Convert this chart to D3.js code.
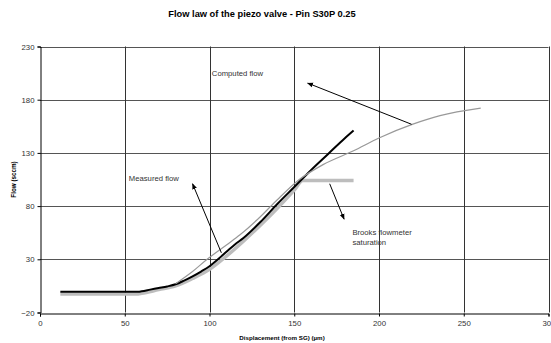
<!DOCTYPE html>
<html>
<head>
<meta charset="utf-8">
<script src="https://cdn.jsdelivr.net/npm/d3@7"></script>
<style>
  body { margin: 0; background: #fff; }
  text { font-family: "Liberation Sans", Arial, sans-serif; }
</style>
</head>
<body>
<div id="chart"></div>
<script>
"use strict";

// tick values
var xTicks = [0, 50, 100, 150, 200, 250, 300];
var yTicks = [-20, 30, 80, 130, 180, 230];

// measured flow (black)
var measuredX = [12, 20, 30, 40, 50, 58, 60, 65, 70, 75, 80, 85, 90, 95, 100, 105, 110, 115, 120, 130, 140, 150, 160, 170, 180, 185];
var measuredY = [-0.5, -0.5, -0.5, -0.5, -0.5, -0.5, 0, 1.5, 3, 4.5, 6.5, 10, 14, 18.5, 23.5, 30, 37, 44, 50, 65, 82, 98, 114, 129, 144, 151];

// measured with Brooks flowmeter (light grey, saturates)
var brooksX = [12, 20, 30, 40, 50, 58, 60, 70, 80, 90, 100, 110, 120, 130, 140, 150, 155, 160, 170, 180, 185];
var brooksY = [-2.5, -2.5, -2.5, -2.5, -2.5, -2.5, -2, 1.5, 5, 12, 20.5, 33, 47, 62, 78, 95, 104, 104, 104, 104, 104];

// computed flow (grey)
var computedX = [80, 90, 98.6, 110, 118, 130, 140, 153, 167, 185, 200, 220, 236, 260];
var computedY = [7, 18.5, 30, 43.5, 53, 70, 86, 105, 119, 132, 144, 157, 165, 172];

// annotations, in data units
var labels = [
    { text: "Computed flow", x: 101.4, y: 202 },
    { text: "Measured flow", x: 52.4, y: 104 },
    { text: "Brooks flowmeter", x: 184.3, y: 52.5 },
    { text: "saturation", x: 184.3, y: 43 }
];
var arrows = [
    { x1: 219.2, y1: 156.9, x2: 157.9, y2: 195.6 },
    { x1: 107, y1: 36.1, x2: 90, y2: 101 },
    { x1: 170.9, y1: 101, x2: 179.4, y2: 67.7 }
];

var w = 551;
var h = 343;

var x = d3.scaleLinear().domain([0, 300]).range([40, 548.5]);
var y = d3.scaleLinear().domain([-20, 230]).range([312.5, 46.5]);

var svg = d3.select("#chart")
    .append("svg")
    .attr("width", w)
    .attr("height", h);

svg.append("defs").append("marker")
    .attr("id", "head")
    .attr("viewBox", "0 0 10 10")
    .attr("refX", 9)
    .attr("refY", 5)
    .attr("markerWidth", 6)
    .attr("markerHeight", 6)
    .attr("markerUnits", "userSpaceOnUse")
    .attr("orient", "auto")
    .append("path")
    .attr("d", "M0,1L10,5L0,9Z")
    .attr("fill", "#000");

//Grid lines
svg.append("g")
    .selectAll("line")
    .data(yTicks.slice(1))
    .enter()
    .append("line")
    .attr("x1", x(0))
    .attr("x2", x(300))
    .attr("y1", function (d) { return Math.round(y(d)) + 0.5; })
    .attr("y2", function (d) { return Math.round(y(d)) + 0.5; })
    .attr("stroke", "#555");

svg.append("g")
    .selectAll("line")
    .data(xTicks.slice(1))
    .enter()
    .append("line")
    .attr("x1", function (d) { return Math.round(x(d)) + 0.5; })
    .attr("x2", function (d) { return Math.round(x(d)) + 0.5; })
    .attr("y1", y(230))
    .attr("y2", y(-20))
    .attr("stroke", "#333");

//Axes
var xAxis = svg.append("g")
    .attr("transform", "translate(0," + (Math.round(y(-20)) + 0.5) + ")")
    .call(d3.axisBottom(x).tickValues(xTicks).tickSize(3).tickPadding(4));
var yAxis = svg.append("g")
    .attr("transform", "translate(" + (Math.round(x(0)) + 0.5) + ",0)")
    .call(d3.axisLeft(y).tickValues(yTicks).tickSize(3).tickPadding(3));

[xAxis, yAxis].forEach(function (a) {
    a.select(".domain").attr("stroke", "#000");
    a.selectAll(".tick line").attr("stroke", "#000");
    a.selectAll(".tick text")
        .attr("fill", "#333")
        .style("font-size", "7.8px")
        .style("font-family", "'Liberation Sans', Arial, sans-serif");
});

//Series
function series(xs, ys) {
    return xs.map(function (d, i) { return [d, ys[i]]; });
}
var line = d3.line()
    .x(function (d) { return x(d[0]); })
    .y(function (d) { return y(d[1]); })
    .curve(d3.curveMonotoneX);

svg.append("path")
    .datum(series(brooksX, brooksY))
    .attr("d", line)
    .attr("fill", "none")
    .attr("stroke", "#bdbdbd")
    .attr("stroke-width", 3.5);

svg.append("path")
    .datum(series(measuredX, measuredY))
    .attr("d", line)
    .attr("fill", "none")
    .attr("stroke", "#000")
    .attr("stroke-width", 2);

svg.append("path")
    .datum(series(computedX, computedY))
    .attr("d", line)
    .attr("fill", "none")
    .attr("stroke", "#999")
    .attr("stroke-width", 1.2);

//Annotations
svg.append("g")
    .selectAll("line")
    .data(arrows)
    .enter()
    .append("line")
    .attr("x1", function (d) { return x(d.x1); })
    .attr("y1", function (d) { return y(d.y1); })
    .attr("x2", function (d) { return x(d.x2); })
    .attr("y2", function (d) { return y(d.y2); })
    .attr("stroke", "#000")
    .attr("stroke-width", 1)
    .attr("marker-end", "url(#head)");

svg.append("g")
    .selectAll("text")
    .data(labels)
    .enter()
    .append("text")
    .attr("x", function (d) { return x(d.x); })
    .attr("y", function (d) { return y(d.y); })
    .attr("fill", "#333")
    .style("font-size", "7.7px")
    .text(function (d) { return d.text; });

//Titles
svg.append("text")
    .attr("x", 262)
    .attr("y", 17.3)
    .attr("text-anchor", "middle")
    .style("font-size", "9.3px")
    .style("font-weight", "bold")
    .text("Flow law of the piezo valve - Pin S30P 0.25");

svg.append("text")
    .attr("x", 282)
    .attr("y", 340)
    .attr("text-anchor", "middle")
    .style("font-size", "6.2px")
    .style("font-weight", "bold")
    .text("Displacement (from SG) (µm)");

svg.append("text")
    .attr("transform", "translate(16,179.5) rotate(-90)")
    .attr("text-anchor", "middle")
    .style("font-size", "6.3px")
    .style("font-weight", "bold")
    .text("Flow (sccm)");
</script>
</body>
</html>
